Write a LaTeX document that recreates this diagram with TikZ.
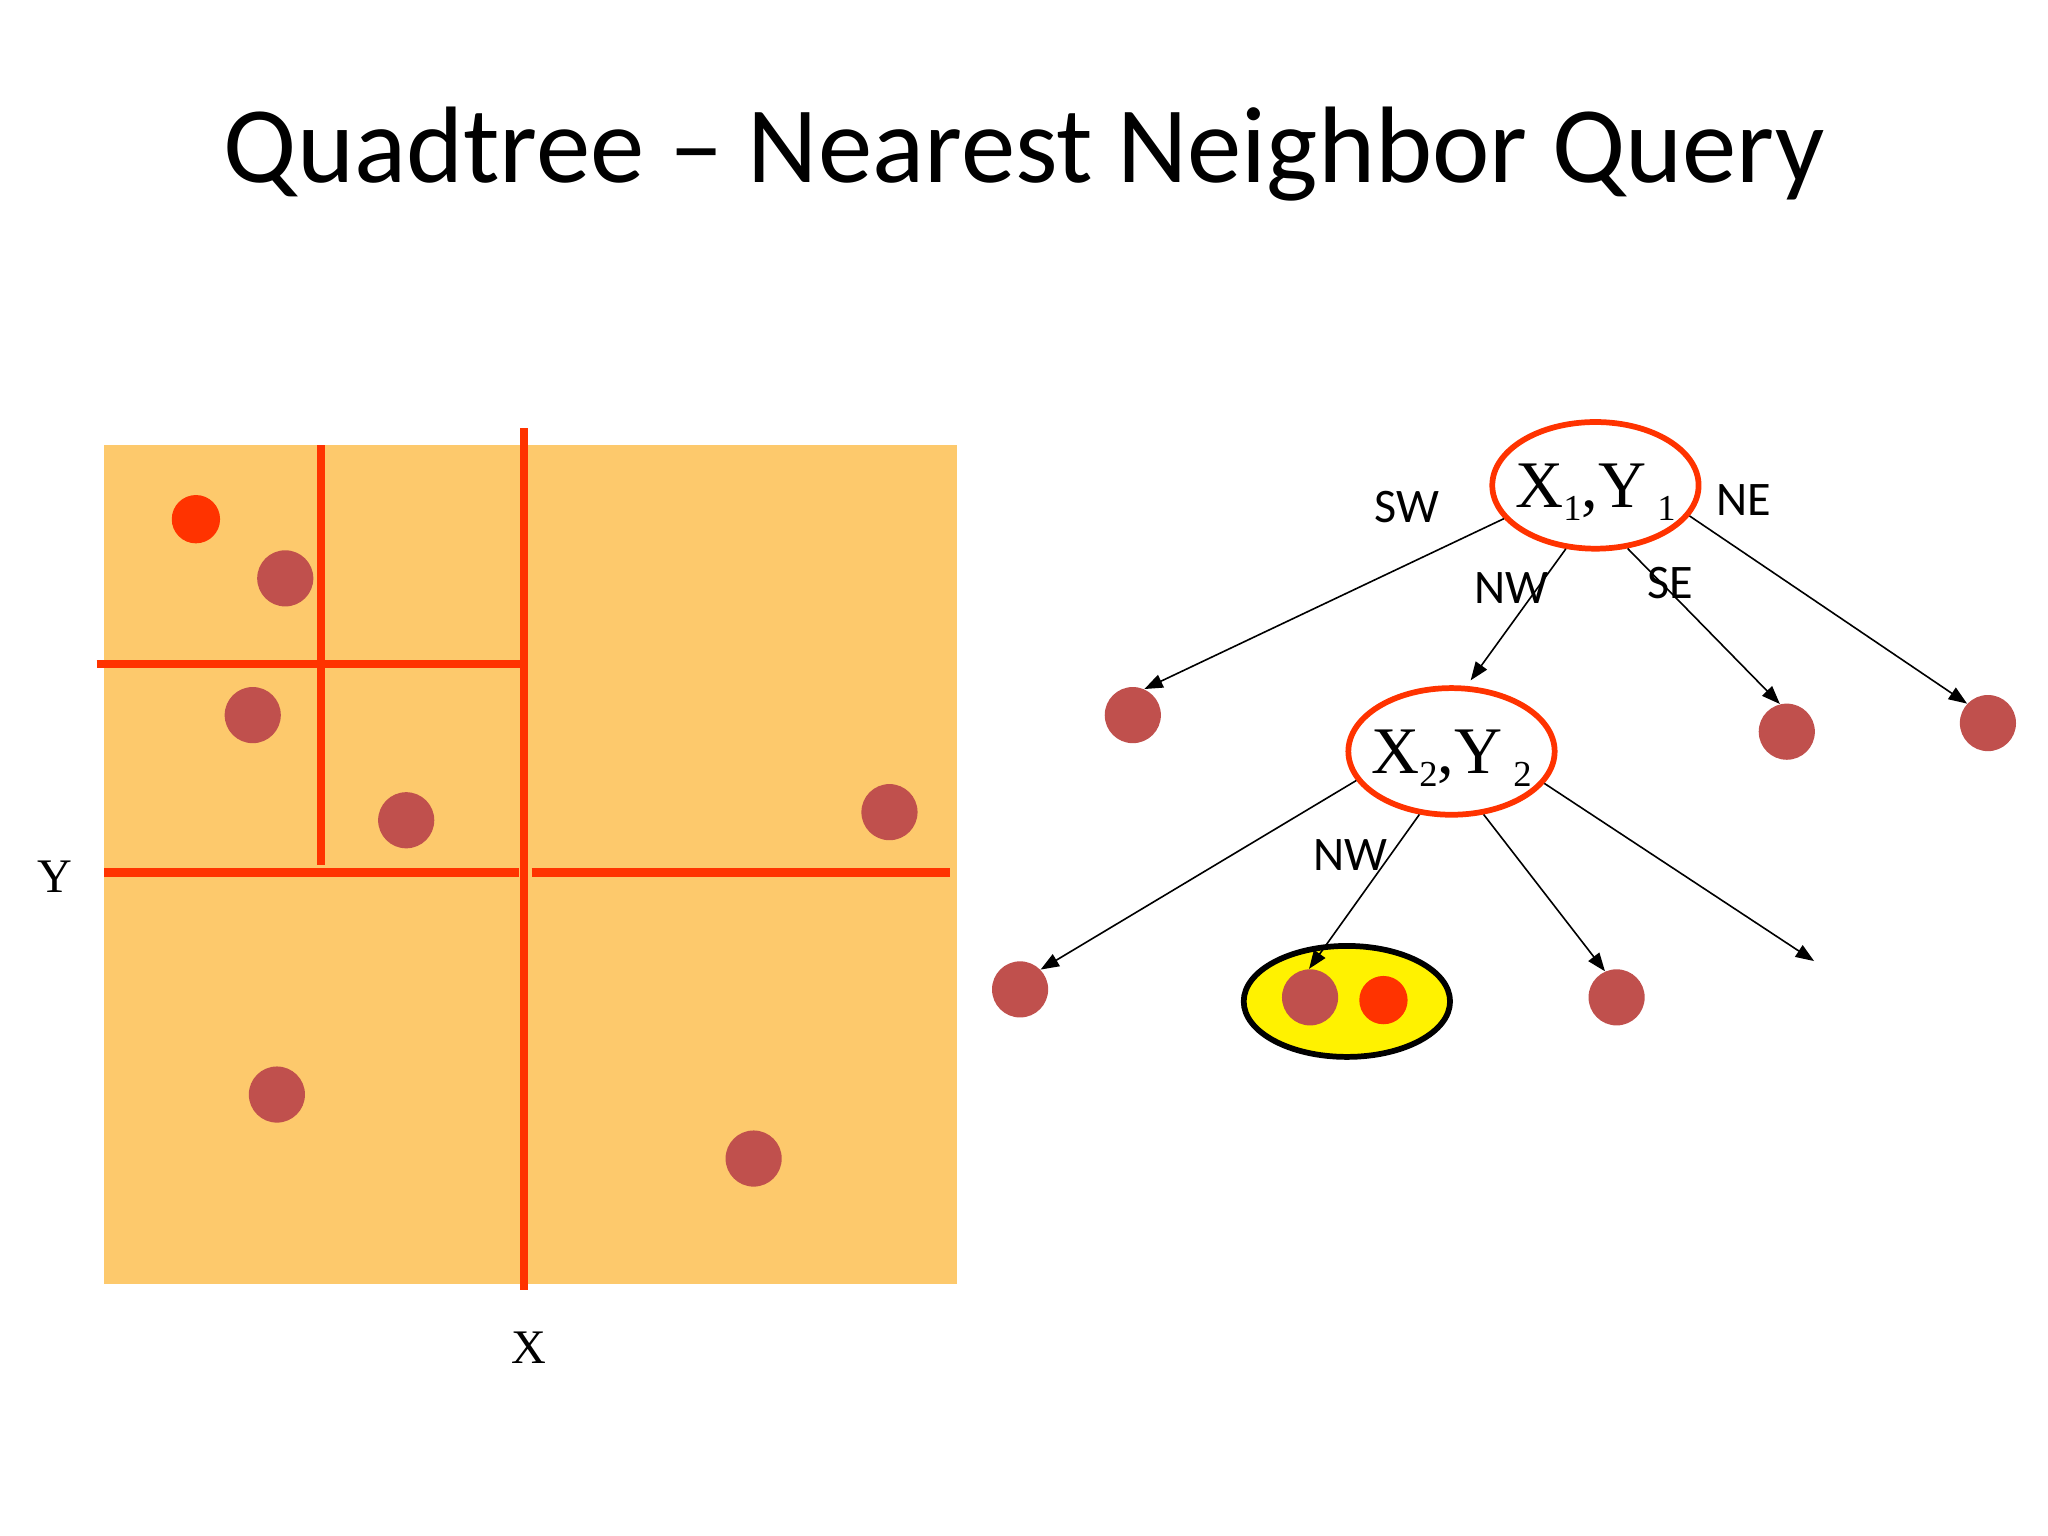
\documentclass[tikz,border=0pt]{standalone}
\usepackage{fontspec}
\setmainfont{Liberation Serif}
\newfontfamily\slidefont{Carlito}
\usetikzlibrary{arrows.meta,shapes.geometric}
\definecolor{pad}{HTML}{FDC96C}
\definecolor{cutred}{HTML}{FF3300}
\definecolor{ptbrown}{HTML}{C0504D}
\newcommand{\subidx}[1]{\raisebox{-6pt}{\scalebox{0.55}{#1}}}
\begin{document}
\begin{tikzpicture}[x=0.02cm,y=-0.02cm,
  cut/.style={cutred,line width=3.5pt},
  pt/.style={circle,fill=ptbrown,minimum size=0.86cm,inner sep=0pt},
  qpt/.style={circle,fill=cutred,minimum size=0.74cm,inner sep=0pt},
  split/.style={ellipse,draw=cutred,line width=2.5pt,fill=white,minimum width=3.16cm,minimum height=1.94cm,inner ysep=0pt,inner xsep=-3.5pt,text depth=0pt,font=\fontsize{29}{29}\selectfont},
  quad/.style={font=\slidefont\fontsize{21}{21}\selectfont},
  axis/.style={font=\fontsize{21}{21}\selectfont},
  edge/.style={-{Triangle[length=8pt,width=6pt]},line width=0.7pt}]
\useasboundingbox (0,0) rectangle (1568,1176);
\node[anchor=base,font=\slidefont\fontsize{47.4}{48}\selectfont] (title) at (784,140) {Quadtree – Nearest Neighbor Query};
\fill[pad] (80,341) rectangle (733,983);
\draw[cut] (246,341) -- (246,662);
\draw[cut] (74,508) -- (401,508);
\draw[cut] (401,328) -- (401,988);
\draw[cut] (80,668) -- (397,668);
\draw[cut] (407,668) -- (727,668);
\node[qpt] (q) at (150,397.5) {};
\node[pt] (p1) at (218.4,442.8) {};
\node[pt] (p2) at (193.5,547.5) {};
\node[pt] (p3) at (311,628) {};
\node[pt] (p4) at (681,621.8) {};
\node[pt] (p5) at (212,838) {};
\node[pt] (p6) at (577,887) {};
\node[axis] (ylab) at (42,671) {Y};
\node[axis] (xlab) at (405,1032) {X};
\node[split] (root) at (1221.5,371.6) {X\subidx{1},Y\,\subidx{1}};
\node[split] (mid) at (1111.3,575.3) {X\subidx{2},Y\,\subidx{2}};
\node[pt] (sw) at (867.3,547.5) {};
\node[pt] (se) at (1368,560.2) {};
\node[pt] (ne) at (1522,553.6) {};
\node[pt] (msw) at (781,757.5) {};
\node[ellipse,draw,line width=2.5pt,fill=yellow,minimum width=3.16cm,minimum height=1.7cm] (near) at (1031.2,766.7) {};
\node[pt] (mnw) at (1003,763.6) {};
\node[qpt] (hit) at (1059.2,765.7) {};
\node[pt] (mse) at (1237.7,763.6) {};
\coordinate (mne) at (1388.9,735.8);
\draw[edge] (root.200) -- (sw.66);
\draw[edge,shorten >=3pt] (root.245) -- (mid.77);
\draw[edge] (root.297) -- (se.104);
\draw[edge] (root.342) -- (ne.137);
\draw[edge] (mid.197) -- (msw.44);
\draw[edge] (mid.243) -- (mnw.92);
\draw[edge] (mid.297) -- (mse.114);
\draw[edge] (mid.341) -- (mne);
\node[quad] (lsw) at (1077,388.5) {SW};
\node[quad] (lne) at (1335.2,382.9) {NE};
\node[quad] (lnw) at (1157.4,450.5) {NW};
\node[quad] (lse) at (1279,446.6) {SE};
\node[quad] (mlnw) at (1033.7,654.7) {NW};
\end{tikzpicture}
\end{document}
